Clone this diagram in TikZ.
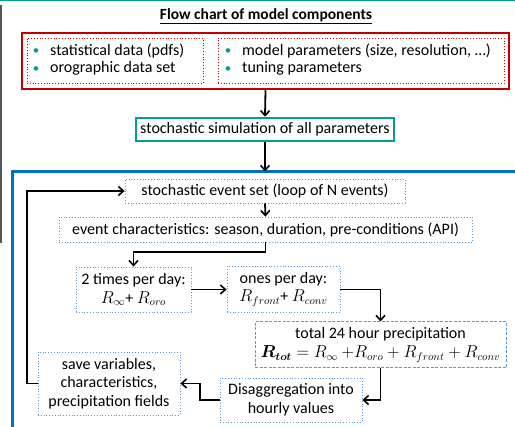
\documentclass[tikz,border=0pt]{standalone}
\usepackage{fontspec}
\usepackage{bm}
\setmainfont{Carlito}
\usetikzlibrary{arrows.meta,calc}
\definecolor{frameRed}{HTML}{C00000}
\definecolor{simTeal}{HTML}{00A08C}
\definecolor{loopBlue}{HTML}{0070C0}
\definecolor{boxBlue}{HTML}{5B9BD5}
\definecolor{sideGray}{HTML}{555555}
\tikzset{
  txt/.style={font=\fontsize{16}{18.5}\selectfont, align=center, inner sep=0pt},
  dotbox/.style={txt, draw=boxBlue, dotted, line width=0.8pt},
  dashbox/.style={txt, draw=boxBlue, dash pattern=on 3pt off 1.5pt, line width=1pt},
  reddot/.style={draw=frameRed, dotted, line width=0.8pt, inner sep=0pt},
  arr/.style={draw=black, line width=1.8pt, -{Straight Barb[length=5pt,width=9pt,line width=1.6pt]}},
}
\newcommand{\tealdot}{\textcolor{simTeal}{\raisebox{0.1ex}{\scalebox{0.8}{\textbullet}}}}
\begin{document}
\begin{tikzpicture}[x=1pt,y=-1pt]
  \useasboundingbox (0,0) rectangle (515,427);
  % page decorations: top rule, left rule and the open frame of the event loop
  \draw[simTeal, line width=1.5pt] (0,0.75) -- (515,0.75);
  \draw[sideGray, line width=2pt] (1,5) -- (1,243);
  \draw[loopBlue, line width=3pt] (12.5,430) -- (12.5,171.5) -- (520,171.5);
  \coordinate (frametop) at (265,171.5);

  % title
  \node[font=\fontsize{15.5}{18}\selectfont\bfseries, inner sep=0pt] (title) at (266,16)
    {\underline{Flow chart of model components}};

  % input data block
  \node[draw=frameRed, line width=2.5pt, minimum width=487pt, minimum height=56pt] (inputs) at (265.5,61) {};
  \node[reddot, minimum width=176pt, minimum height=45pt] (inL) at (115,60.5) {};
  \node[reddot, minimum width=286pt, minimum height=45pt] (inR) at (361,60.5) {};
  \node[txt, anchor=west, align=left] (inLtxt) at (inL.west) {%
    \begin{tabular}{@{\hspace{6pt}}l@{\hspace{11pt}}l}
      \tealdot & statistical data (pdfs)\\[-1pt]
      \tealdot & orographic data set
    \end{tabular}};
  \node[txt, anchor=west, align=left] (inRtxt) at (inR.west) {%
    \begin{tabular}{@{\hspace{7pt}}l@{\hspace{11pt}}l}
      \tealdot & model parameters (size, resolution, \dots)\\[-1pt]
      \tealdot & tuning parameters
    \end{tabular}};

  % stochastic simulation
  \node[txt, draw=simTeal, line width=2.5pt, minimum width=258pt, minimum height=23pt] (sim) at (265,129.5)
    {stochastic simulation of all parameters};

  % event loop
  \node[dotbox, minimum width=280pt, minimum height=24pt] (evset) at (265,191)
    {stochastic event set (loop of N events)};
  \node[dotbox, minimum width=413pt, minimum height=25pt] (evchar) at (265.5,229.5)
    {event characteristics: season, duration, pre-conditions (API)};
  \node[dotbox, minimum width=115pt, minimum height=45pt] (twice) at (133.5,289.5)
    {2 times per day:\\ $R_\infty$+\ $R_{oro}$};
  \node[dotbox, minimum width=113pt, minimum height=46pt] (once) at (283.5,289.5)
    {ones per day:\\ $R_{front}$+\ $R_{conv}$};
  \node[dashbox, minimum width=251pt, minimum height=46pt] (total) at (380.5,345)
    {total 24 hour precipitation\\
     $\bm{R_{tot}} = R_\infty\ {+}R_{oro} + R_{front} + R_{conv}$};
  \node[dotbox, minimum width=142pt, minimum height=44pt] (disagg) at (291,400)
    {Disaggregation into\\ hourly values};
  \node[dotbox, minimum width=142pt, minimum height=63pt] (save) at (109,383.5)
    {save variables,\\ characteristics,\\ precipitation fields};

  % connectors
  \draw[arr] (inputs.south) -- (sim.north);
  \draw[arr] (sim.south) -- (frametop);
  \draw[arr] (evset.south) -- (evchar.north);
  \draw[arr] (evchar.south) -- ++(0,10) -| (twice.north);
  \draw[arr] (twice.east) -- (twice.east -| once.west);
  \draw[arr] (once.east) -| (total.north);
  \draw[arr] (total.south) |- (disagg.east);
  \draw[arr] (disagg.west) -- ++(-20,0) |- (save.east);
  \draw[arr] (save.west) -- ++(-11,0) |- (evset.west);
\end{tikzpicture}
\end{document}
